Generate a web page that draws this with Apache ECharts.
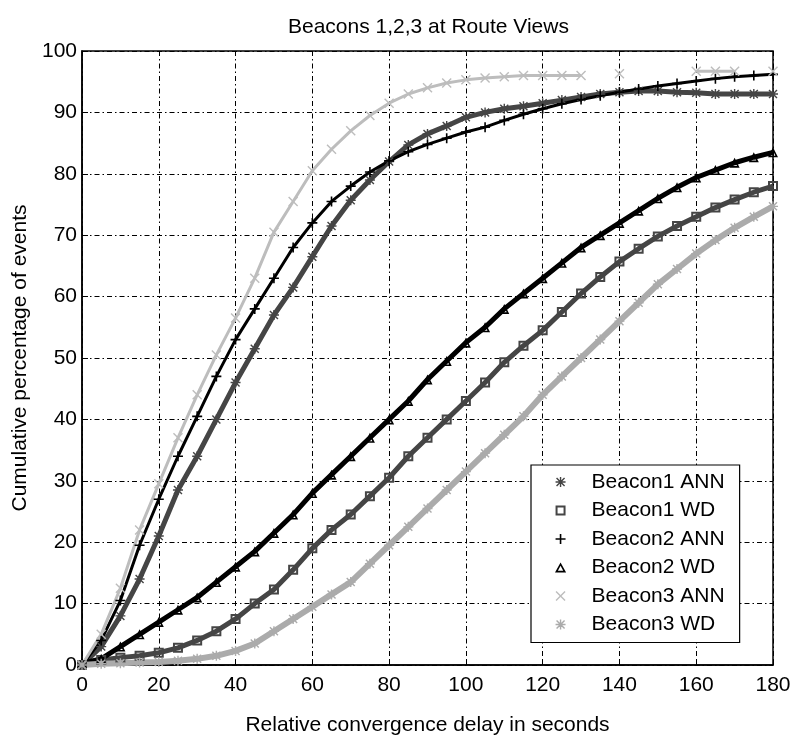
<!DOCTYPE html>
<html>
<head>
<meta charset="utf-8">
<script src="https://cdn.jsdelivr.net/npm/echarts@6/dist/echarts.min.js"></script>
<style>html,body{margin:0;padding:0;background:#fff;}#c{width:799px;height:741px;}</style>
</head>
<body>
<div id="c"></div>
<script>
// ---- data ----
const delays = [0,5,10,15,20,25,30,35,40,45,50,55,60,65,70,75,80,85,90,95,100,105,110,115,120,125,130,135,140,145,150,155,160,165,170,175,180];
const beacon1ANN = [0,3,8,14,21,28.5,34,40,46,51.5,57,61.5,66.5,71.5,75.7,79,82,84.7,86.5,87.8,89.2,90,90.6,91,91.5,92,92.5,93,93.3,93.5,93.5,93.3,93.2,93,93,93,93];
const beacon1WD = [0,0.8,1.2,1.5,2,2.8,4,5.5,7.5,10,12.3,15.5,19,22,24.5,27.5,30.5,34,37,40,43,46,49.3,52,54.5,57.5,60.5,63.2,65.7,67.8,69.8,71.5,73,74.5,75.8,77,78];
const beacon2ANN = [0,4,10.5,19.5,27,34,40.5,47,53,58,63,68,72,75.5,78,80.3,82.1,83.6,84.8,85.8,86.8,87.6,88.7,89.7,90.6,91.4,92.1,92.7,93.3,93.8,94.3,94.7,95.1,95.5,95.8,96,96.2];
const beacon2WD = [0.3,1,3,5,7,9,11,13.5,16,18.5,21.5,24.5,28,31,34,37,40,43,46.5,49.5,52.5,55,58,60.5,63,65.5,68,70,72,74,76,77.8,79.4,80.6,81.8,82.7,83.5];
const beacon3ANN = [0,5,12.5,22,29.5,37,44,50.5,56.5,63,70.5,75.5,80.5,84,87,89.5,91.5,93,94,94.8,95.3,95.6,95.8,96,96,96,96,null,96.3,null,null,null,96.7,96.7,96.7,null,96.7];
const beacon3WD = [0,0.2,0.3,0.4,0.5,0.7,1,1.5,2.3,3.5,5.5,7.5,9.5,11.5,13.5,16.5,19.5,22.5,25.5,28.5,31.5,34.5,37.5,40.5,44,47,50,53,56,59,62,64.5,67,69.2,71.2,73,74.7];
const seriesNames = ['Beacon1 ANN','Beacon1 WD','Beacon2 ANN','Beacon2 WD','Beacon3 ANN','Beacon3 WD'];
const xTicks = [0,20,40,60,80,100,120,140,160,180];
const yTicks = [0,10,20,30,40,50,60,70,80,90,100];

// ---- marker shapes ----
const PLUS = 'path://M4.2,0 L5.8,0 L5.8,4.2 L10,4.2 L10,5.8 L5.8,5.8 L5.8,10 L4.2,10 L4.2,5.8 L0,5.8 L0,4.2 L4.2,4.2 Z';
const XMARK = 'path://M1,0 L5,4 L9,0 L10,1 L6,5 L10,9 L9,10 L5,6 L1,10 L0,9 L4,5 L0,1 Z';
const STAR = 'path://M4.3,0 L5.7,0 L5.7,4.3 L10,4.3 L10,5.7 L5.7,5.7 L5.7,10 L4.3,10 L4.3,5.7 L0,5.7 L0,4.3 L4.3,4.3 Z M1.5,0.5 L5,4 L8.5,0.5 L9.5,1.5 L6,5 L9.5,8.5 L8.5,9.5 L5,6 L1.5,9.5 L0.5,8.5 L4,5 L0.5,1.5 Z';
const SQUARE = 'path://M0,0 L10,0 L10,10 L0,10 Z M2,2 L2,8 L8,8 L8,2 Z';
const TRI = 'path://M5,0 L10,9 L0,9 Z M5,3 L2.6,7.5 L7.4,7.5 Z';

const BLACK = '#000000', DARK = '#454545', LIGHT = '#ababab', LIGHTER = '#bdbdbd';
const FONT = '"Liberation Sans", Arial, Helvetica, sans-serif';

function pairs(ys) { return delays.map((x, i) => [x, ys[i] == null ? '-' : ys[i]]); }

const defs = [
  {name: seriesNames[0], data: beacon1ANN, color: DARK, symbol: STAR, width: 5},
  {name: seriesNames[1], data: beacon1WD, color: DARK, symbol: SQUARE, width: 5},
  {name: seriesNames[2], data: beacon2ANN, color: BLACK, symbol: PLUS, width: 3},
  {name: seriesNames[3], data: beacon2WD, color: BLACK, symbol: TRI, width: 5},
  {name: seriesNames[4], data: beacon3ANN, color: LIGHTER, symbol: XMARK, width: 3},
  {name: seriesNames[5], data: beacon3WD, color: LIGHT, symbol: STAR, width: 6}
];

const series = defs.map(d => ({
  name: d.name,
  type: 'line',
  data: pairs(d.data),
  symbol: d.symbol,
  symbolSize: 10,
  showSymbol: true,
  showAllSymbol: true,
  connectNulls: false,
  animation: false,
  itemStyle: {color: d.color, borderWidth: 0},
  lineStyle: {color: d.color, width: d.width}
}));

const grid = {left: 82, top: 51, width: 691, height: 628, show: true, borderColor: '#000', borderWidth: 1.5, backgroundColor: '#fff'};
const gridLine = {show: true, lineStyle: {color: '#000', width: 1, type: [5, 3, 1.5, 3]}};

const chart = echarts.init(document.getElementById('c'), null, {renderer: 'canvas'});
chart.setOption({
  backgroundColor: '#fff',
  animation: false,
  title: {
    text: 'Beacons 1,2,3 at Route Views',
    left: 283, top: 12,
    textStyle: {fontFamily: FONT, fontSize: 21, fontWeight: 'normal', color: '#000'}
  },
  grid: grid,
  xAxis: {
    type: 'value', min: xTicks[0], max: xTicks[xTicks.length - 1], interval: 20,
    name: 'Relative convergence delay in seconds', nameLocation: 'middle', nameGap: 50,
    nameTextStyle: {fontFamily: FONT, fontSize: 21, color: '#000'},
    axisLine: {show: true, onZero: false, lineStyle: {color: '#000', width: 1.5}},
    axisTick: {show: true, inside: true, length: 6, lineStyle: {color: '#000'}},
    axisLabel: {fontFamily: FONT, fontSize: 21, color: '#000', margin: 10},
    splitLine: gridLine
  },
  yAxis: {
    type: 'value', min: yTicks[0], max: yTicks[yTicks.length - 1], interval: 10,
    name: 'Cumulative percentage of events', nameLocation: 'middle', nameGap: 47,
    nameTextStyle: {fontFamily: FONT, fontSize: 21, color: '#000'},
    axisLine: {show: true, onZero: false, lineStyle: {color: '#000', width: 1.5}},
    axisTick: {show: true, inside: true, length: 6, lineStyle: {color: '#000'}},
    axisLabel: {fontFamily: FONT, fontSize: 21, color: '#000', margin: 5},
    splitLine: gridLine
  },
  legend: {
    orient: 'vertical',
    left: 531, top: 465,
    padding: [6, 15, 7, 24],
    itemWidth: 52, itemHeight: 10, itemGap: 6.5,
    symbolKeepAspect: true,
    backgroundColor: '#fff', borderColor: '#000', borderWidth: 1.2, borderRadius: 0,
    textStyle: {fontFamily: FONT, fontSize: 21, color: '#000', lineHeight: 22},
    data: defs.map(d => ({name: d.name, icon: d.symbol, itemStyle: {color: d.color, borderWidth: 0}}))
  },
  series: series
});
</script>
</body>
</html>
